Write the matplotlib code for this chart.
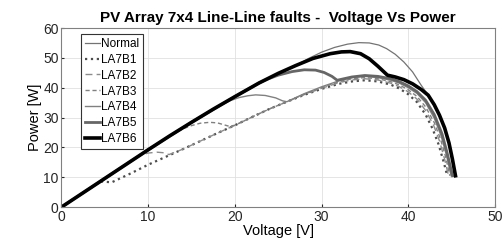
import matplotlib
matplotlib.use('Agg')
import matplotlib.pyplot as plt

plt.rcParams['font.family'] = ['Liberation Sans', 'DejaVu Sans']

# Normal
vn = [0, 5, 10, 12.5, 15, 17.5, 20, 22.8, 25, 27, 28.5, 30, 31.5, 33, 34.3, 35.5, 36.6,
      37.5, 38.5, 39.5, 40.5, 41.5, 42.3, 43, 43.6, 44.2, 44.7, 45.1, 45.45]
pn = [0, 9.6, 19.2, 23.9, 28.4, 32.8, 37, 41.6, 44.8, 47.4, 49.8, 51.9, 53.5, 54.6, 55.1, 55.0, 54.3,
      53.1, 51.2, 48.6, 45.3, 40.8, 37.5, 34.3, 30.8, 26.5, 21.5, 16, 10.5]

# LA7B1
v1 = [0, 4.5, 5.8, 8, 10, 12, 14, 16, 18, 20, 22, 24, 26, 28, 30, 32, 33.5, 35, 36.5,
      38, 39, 40, 41, 42, 42.8, 43.5, 44.1, 44.5]
p1 = [0, 8.6, 8.3, 11.3, 14.2, 16.8, 19.4, 22.1, 24.8, 27.4, 30.2, 32.9, 35.3, 37.6, 39.6, 41.3, 42.1, 42.5, 42.1,
      41, 39.7, 37.8, 35.2, 31, 26.3, 21, 15, 10.5]

# LA7B2
v2 = [0, 5, 9, 10, 11, 11.8, 12.4, 14, 16, 18, 20, 22, 24, 26, 28, 30, 32, 33.5, 35, 36.5,
      38, 39, 40, 41, 42, 42.9, 43.6, 44.2, 44.65]
p2 = [0, 9.6, 17.3, 18.1, 18.4, 18.2, 17.6, 19.4, 22.1, 24.8, 27.4, 30.2, 32.9, 35.3, 37.7, 39.8, 41.7, 42.6, 43, 42.6,
      41.5, 40.3, 38.6, 36.2, 32.4, 27.6, 22.2, 16, 10.5]

# LA7B3
v3 = [0, 5, 10, 13, 14, 15, 16, 17.1, 18, 18.6, 19.3, 20, 22, 24, 26, 28, 30, 32, 33.5, 35, 36.5,
      38, 39, 40, 41, 42, 43, 43.7, 44.3, 44.8]
p3 = [0, 9.6, 19.2, 24.8, 26.2, 27.3, 28.1, 28.4, 28.2, 27.7, 27.1, 27.4, 30.2, 32.9, 35.3, 37.8, 40, 42, 43, 43.4, 43,
      42, 40.9, 39.3, 37.1, 33.6, 28.3, 23, 17, 10.5]

# LA7B4
v4 = [0, 5, 10, 15, 17.5, 18.5, 19.5, 20.5, 21.5, 22.4, 23.5, 24.7, 25.5, 26, 28, 30, 32, 33.5, 35, 36.5,
      38, 39, 40, 41, 42, 43, 43.8, 44.4, 44.95]
p4 = [0, 9.6, 19.2, 28.4, 32.8, 34.4, 35.7, 36.7, 37.3, 37.6, 37.4, 36.6, 35.6, 35.3, 38, 40.3, 42.3, 43.4, 43.8, 43.4,
      42.5, 41.5, 40, 38.1, 35, 29.8, 23.8, 17.5, 10.5]

# LA7B5
v5 = [0, 5, 10, 15, 20, 22.8, 23.8, 25, 26.6, 28, 29.3, 30.3, 31.2, 31.8, 33.5, 35, 36.5,
      38, 39, 40, 41, 42, 43, 43.9, 44.5, 45.1]
p5 = [0, 9.6, 19.2, 28.4, 37, 41.6, 42.9, 44.2, 45.4, 46, 45.9, 45.1, 43.8, 42.5, 43.6, 44.1, 43.8,
      43, 42, 40.6, 38.7, 35.8, 31, 24.5, 18, 10.5]

# LA7B6
v6 = [0, 5, 10, 12.5, 15, 17.5, 20, 22.8, 25, 27, 29, 31, 32.3, 33.3, 34.5, 35.5, 36.5, 37.6,
      38.5, 39.5, 40.5, 41.5, 42.3, 43, 43.6, 44.2, 44.7, 45.1, 45.45]
p6 = [0, 9.6, 19.2, 23.9, 28.4, 32.8, 37, 41.6, 44.8, 47.4, 49.8, 51.4, 52, 52.1, 51.4, 49.7, 47.2, 44.2,
      43.6, 42.7, 41.3, 39.4, 37.5, 34.3, 30.8, 26.5, 21.5, 16, 10.5]

fig = plt.figure(figsize=(5.04, 2.48), dpi=100)
ax = fig.add_axes([0.122, 0.165, 0.860, 0.722])

ax.plot(vn, pn, color='0.45', lw=0.9, label='Normal')
ax.plot(v1, p1, color='0.3', lw=1.6, ls=':', label='LA7B1')
ax.plot(v2, p2, color='0.55', lw=1.0, dashes=(5, 3), label='LA7B2')
ax.plot(v3, p3, color='0.5', lw=1.0, dashes=(3, 2), label='LA7B3')
ax.plot(v4, p4, color='0.5', lw=1.0, label='LA7B4')
ax.plot(v5, p5, color='0.4', lw=2.0, label='LA7B5')
ax.plot(v6, p6, color='black', lw=2.6, label='LA7B6')

ax.set_xlim(0, 50)
ax.set_ylim(0, 60)
ax.set_xticks([0, 10, 20, 30, 40, 50])
ax.set_yticks([0, 10, 20, 30, 40, 50, 60])
ax.grid(True, color='0.88', lw=0.6)
ax.tick_params(direction='in', length=2, labelsize=10, colors='0.15', pad=2)
for s in ax.spines.values():
    s.set_color('0.5')
    s.set_linewidth(0.8)

ax.set_xlabel('Voltage [V]', fontsize=10.5, labelpad=0)
ax.set_ylabel('Power [W]', fontsize=10.5, labelpad=1)
ax.set_title('PV Array 7x4 Line-Line faults -  Voltage Vs Power', fontsize=11, fontweight='bold', pad=4)

leg = ax.legend(loc='upper left', bbox_to_anchor=(0.045, 0.965), borderaxespad=0,
                fontsize=8.5, handlelength=1.3, handletextpad=0.1, labelspacing=0.33,
                borderpad=0.3, fancybox=False, framealpha=1)
leg.get_frame().set_edgecolor('0.2')
leg.get_frame().set_linewidth(0.8)

fig.savefig('out.png', dpi=100)
